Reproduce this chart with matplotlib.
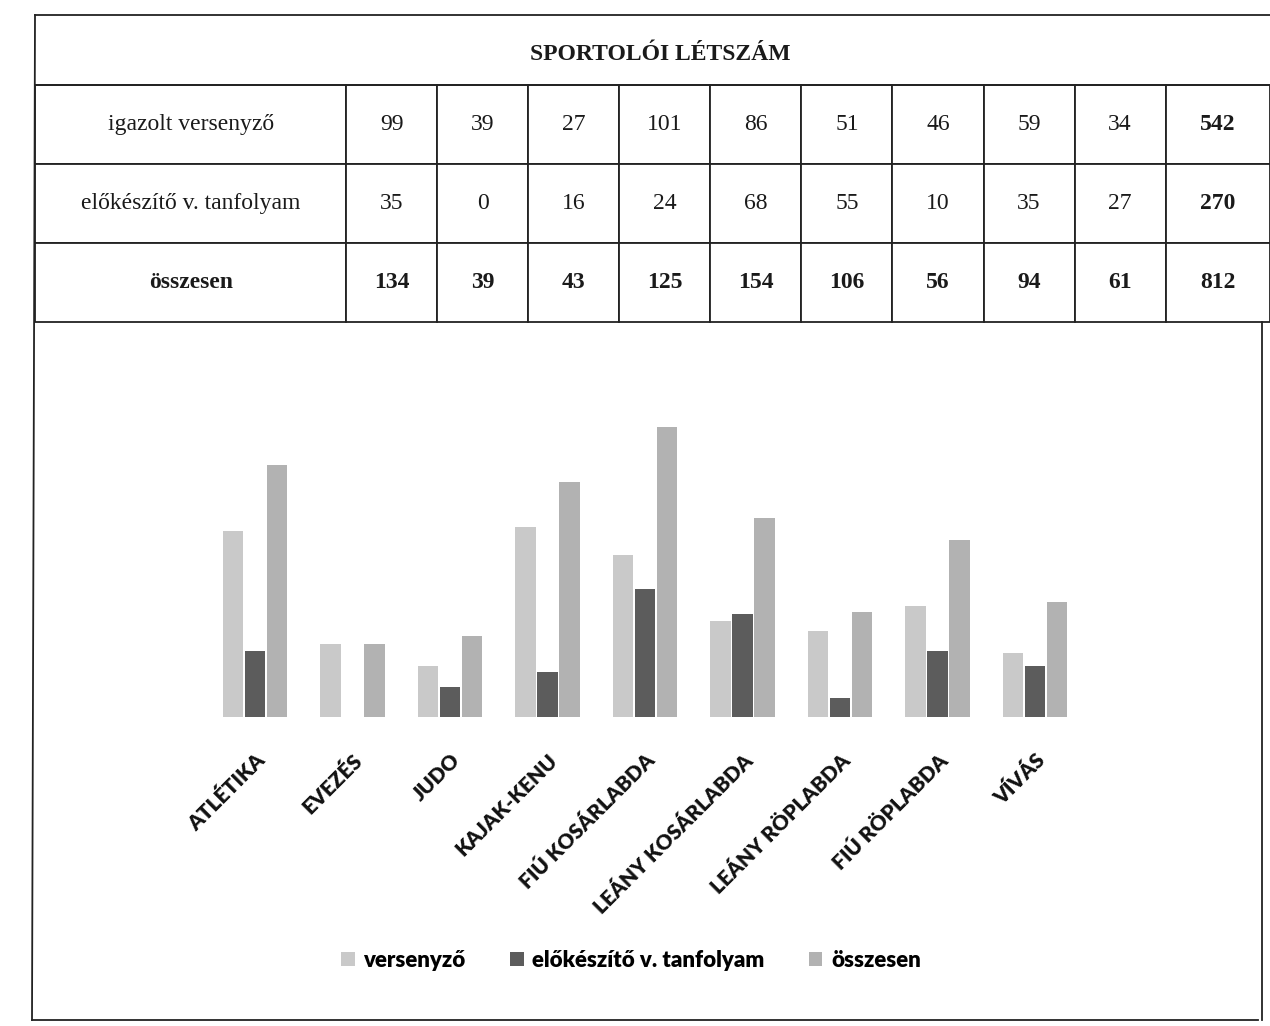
import matplotlib
matplotlib.use('Agg')
import matplotlib.pyplot as plt
import numpy as np

# table / chart data
categories = ['ATLÉTIKA', 'EVEZÉS', 'JUDO', 'KAJAK-KENU', 'FIÚ KOSÁRLABDA',
              'LEÁNY KOSÁRLABDA', 'LEÁNY RÖPLABDA', 'FIÚ RÖPLABDA', 'VÍVÁS']
versenyzo = [99, 39, 27, 101, 86, 51, 46, 59, 34]
elokeszito = [35, 0, 16, 24, 68, 55, 10, 35, 27]
osszesen = [134, 39, 43, 125, 154, 106, 56, 94, 61]
row_labels = ['igazolt versenyző', 'előkészítő v. tanfolyam', 'összesen']
legend_labels = ['versenyző', 'előkészítő v. tanfolyam', 'összesen']
title = 'SPORTOLÓI LÉTSZÁM'

W, H = 1270, 1026
fig = plt.figure(figsize=(W / 100, H / 100), dpi=100)

# background axes in pixel coords for frame + table
bg = fig.add_axes([0, 0, 1, 1])
bg.set_xlim(0, W)
bg.set_ylim(H, 0)
bg.axis('off')

lw = 1.3
# outer frame
bg.plot([35, 1270], [15, 15], color='#222222', lw=lw)
bg.plot([35, 32], [15, 1020], color='#222222', lw=lw)
bg.plot([32, 1258], [1020, 1020], color='#222222', lw=lw)
bg.plot([1262, 1262], [322, 1020], color='#222222', lw=lw)
bg.plot([35, 1270], [85, 85], color='#222222', lw=lw)
bg.text(660, 55, title, ha='center', va='center', fontsize=17,
        fontweight='bold', family='Liberation Serif', color='#1a1a1a')

# data table
totals = [sum(versenyzo), sum(elokeszito), sum(osszesen)]
cell_text = []
for lab, vals, tot in zip(row_labels, [versenyzo, elokeszito, osszesen], totals):
    cell_text.append([lab] + [str(v) for v in vals] + [str(tot)])

col_w = [313] + [91.5] * 9 + [105]
x0, x1, y0, y1 = 35, 1270, 85, 322
tbl = bg.table(cellText=cell_text, colWidths=[c / sum(col_w) for c in col_w],
               cellLoc='center',
               bbox=[x0 / W, (H - y1) / H, (x1 - x0) / W, (y1 - y0) / H])
tbl.auto_set_font_size(False)
for (r, c), cell in tbl.get_celld().items():
    cell.set_edgecolor('#222222')
    cell.set_linewidth(lw)
    bold = r == 2 or c == len(col_w) - 1
    if r == 2 and c == 0:
        fs = 17
    else:
        fs = 17
    cell.get_text().set_fontsize(fs)
    cell.get_text().set_fontfamily('Liberation Serif')
    cell.get_text().set_fontweight('bold' if bold else 'normal')
    cell.get_text().set_color('#1a1a1a')

# bar chart
ax = fig.add_axes([206.25 / W, (H - 717) / H, 877.5 / W, (717 - 416.2) / H])
x = np.arange(len(categories))
bw = 0.21
off = 0.225
ax.bar(x - off, versenyzo, bw, color='#c9c9c9', label=legend_labels[0])
ax.bar(x, elokeszito, bw, color='#5c5c5c', label=legend_labels[1])
ax.bar(x + off, osszesen, bw, color='#b2b2b2', label=legend_labels[2])
ax.set_xlim(-0.5, len(categories) - 0.5)
ax.set_ylim(0, 160)
for s in ax.spines.values():
    s.set_visible(False)
ax.set_yticks([])
ax.set_xticks(x)
ax.set_xticklabels(categories, rotation=45, ha='right', rotation_mode='anchor',
                   fontsize=15, fontweight='heavy', family='Lato', color='#111111')
ax.tick_params(axis='x', length=0, pad=24)
ax.patch.set_alpha(0)

fig.legend(loc='center', bbox_to_anchor=(0.497, 0.064), ncol=3, frameon=False,
           handlelength=0.6, handleheight=0.6, columnspacing=2.0, handletextpad=0.4,
           prop={'family': 'Lato', 'weight': 'heavy', 'size': 16})

fig.savefig('out.png', dpi=100)
